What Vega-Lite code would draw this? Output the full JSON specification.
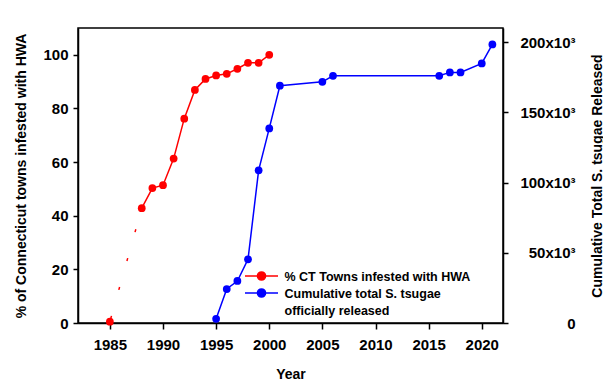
{
  "$schema": "https://vega.github.io/schema/vega-lite/v6.json",
  "width": 425,
  "height": 295,
  "autosize": {"type": "none"},
  "padding": {"left": 78, "top": 28, "right": 100, "bottom": 60},
  "config": {
    "font": "Liberation Sans",
    "view": {"stroke": "black", "strokeWidth": 1.5},
    "axis": {
      "labelFont": "Liberation Sans", "labelFontWeight": "bold", "labelFontSize": 15, "labelColor": "black",
      "titleFont": "Liberation Sans", "titleFontWeight": "bold", "titleFontSize": 14, "titleColor": "black",
      "domainColor": "black", "domainWidth": 1.5, "tickColor": "black", "tickWidth": 1.5, "tickSize": 5, "grid": false
    }
  },
  "datasets": {
    "hwa": [
      {"year": 1985, "value": 0.5, "series": "% CT Towns infested with HWA"},
      {"year": 1988, "value": 42.8, "series": "% CT Towns infested with HWA"},
      {"year": 1989, "value": 50.3, "series": "% CT Towns infested with HWA"},
      {"year": 1990, "value": 51.4, "series": "% CT Towns infested with HWA"},
      {"year": 1991, "value": 61.3, "series": "% CT Towns infested with HWA"},
      {"year": 1992, "value": 76.2, "series": "% CT Towns infested with HWA"},
      {"year": 1993, "value": 86.9, "series": "% CT Towns infested with HWA"},
      {"year": 1994, "value": 91.0, "series": "% CT Towns infested with HWA"},
      {"year": 1995, "value": 92.3, "series": "% CT Towns infested with HWA"},
      {"year": 1996, "value": 92.9, "series": "% CT Towns infested with HWA"},
      {"year": 1997, "value": 94.8, "series": "% CT Towns infested with HWA"},
      {"year": 1998, "value": 97.0, "series": "% CT Towns infested with HWA"},
      {"year": 1999, "value": 97.0, "series": "% CT Towns infested with HWA"},
      {"year": 2000, "value": 100, "series": "% CT Towns infested with HWA"}
    ],
    "st": [
      {"year": 1995, "value": 3000, "series": "Cumulative total S. tsugae|\u2002officially released"},
      {"year": 1996, "value": 24200, "series": "Cumulative total S. tsugae|\u2002officially released"},
      {"year": 1997, "value": 29900, "series": "Cumulative total S. tsugae|\u2002officially released"},
      {"year": 1998, "value": 45300, "series": "Cumulative total S. tsugae|\u2002officially released"},
      {"year": 1999, "value": 108700, "series": "Cumulative total S. tsugae|\u2002officially released"},
      {"year": 2000, "value": 138500, "series": "Cumulative total S. tsugae|\u2002officially released"},
      {"year": 2001, "value": 168900, "series": "Cumulative total S. tsugae|\u2002officially released"},
      {"year": 2005, "value": 171700, "series": "Cumulative total S. tsugae|\u2002officially released"},
      {"year": 2006, "value": 176000, "series": "Cumulative total S. tsugae|\u2002officially released"},
      {"year": 2016, "value": 176000, "series": "Cumulative total S. tsugae|\u2002officially released"},
      {"year": 2017, "value": 178400, "series": "Cumulative total S. tsugae|\u2002officially released"},
      {"year": 2018, "value": 178400, "series": "Cumulative total S. tsugae|\u2002officially released"},
      {"year": 2020, "value": 184800, "series": "Cumulative total S. tsugae|\u2002officially released"},
      {"year": 2021, "value": 198300, "series": "Cumulative total S. tsugae|\u2002officially released"}
    ]
  },
  "encoding": {
    "x": {
      "field": "year", "type": "quantitative",
      "scale": {"domain": [1982, 2022], "nice": false, "zero": false},
      "axis": {"values": [1985, 1990, 1995, 2000, 2005, 2010, 2015, 2020], "format": "d", "title": "Year", "labelPadding": 8, "titlePadding": 15, "tickSize": 6}
    },
    "color": {
      "field": "series", "type": "nominal",
      "scale": {"domain": ["% CT Towns infested with HWA", "Cumulative total S. tsugae|\u2002officially released"], "range": ["#FF0000", "#0000FF"]},
      "legend": {
        "title": null, "orient": "none", "legendX": 176.5, "legendY": 241,
        "symbolType": "M-2.75,0L2.75,0M0.68,0C0.68,0.376,0.376,0.68,0,0.68C-0.376,0.68,-0.68,0.376,-0.68,0C-0.68,-0.376,-0.376,-0.68,0,-0.68C0.376,-0.68,0.68,-0.376,0.68,0Z",
        "symbolSize": 144, "symbolStrokeWidth": 1.5,
        "labelFont": "Liberation Sans", "labelFontWeight": "bold", "labelFontSize": 12.5, "labelColor": "black",
        "labelExpr": "split(datum.label, '|')", "labelBaseline": "alphabetic", "labelOffset": 16, "labelLimit": 400,
        "rowPadding": 1,
        "encode": {
          "symbols": {"update": {
            "fill": {"scale": "color", "field": "value"},
            "stroke": {"scale": "color", "field": "value"},
            "fillOpacity": {"value": 1}, "strokeOpacity": {"value": 1}, "opacity": {"value": 1},
            "strokeWidth": {"value": 1.5}
          }},
          "labels": {"update": {"dy": {"value": 4.5}, "lineHeight": {"value": 17}}}
        }
      }
    }
  },
  "layer": [
    {
      "data": {"name": "hwa"},
      "encoding": {
        "y": {"field": "value", "type": "quantitative", "scale": {"domain": [0, 110], "nice": false},
              "axis": {"values": [0, 20, 40, 60, 80, 100], "title": "% of Connecticut towns infested with HWA", "labelPadding": 5, "titlePadding": 14}}
      },
      "layer": [
        {"transform": [{"filter": "datum.year <= 1988"}], "mark": {"type": "line", "strokeWidth": 1.5, "strokeDash": [3, 27], "strokeDashOffset": 27}},
        {"transform": [{"filter": "datum.year >= 1988"}], "mark": {"type": "line", "strokeWidth": 1.5}},
        {"mark": {"type": "point", "filled": true, "size": 60, "opacity": 1}}
      ]
    },
    {
      "data": {"name": "st"},
      "encoding": {
        "y": {"field": "value", "type": "quantitative", "scale": {"domain": [0, 210000], "nice": false},
              "axis": {"orient": "right", "values": [0, 50000, 100000, 150000, 200000],
                       "labelExpr": "datum.value == 0 ? '0' : format(datum.value/1000, 'd') + 'x10³'",
                       "labelAlign": "right", "labelPadding": 67,
                       "title": "Cumulative Total S. tsugae Released", "titleAngle": 270, "titlePadding": 29}}
      },
      "layer": [
        {"mark": {"type": "line", "strokeWidth": 1.5}},
        {"mark": {"type": "point", "filled": true, "size": 60, "opacity": 1}}
      ]
    }
  ],
  "resolve": {"scale": {"y": "independent"}}
}
